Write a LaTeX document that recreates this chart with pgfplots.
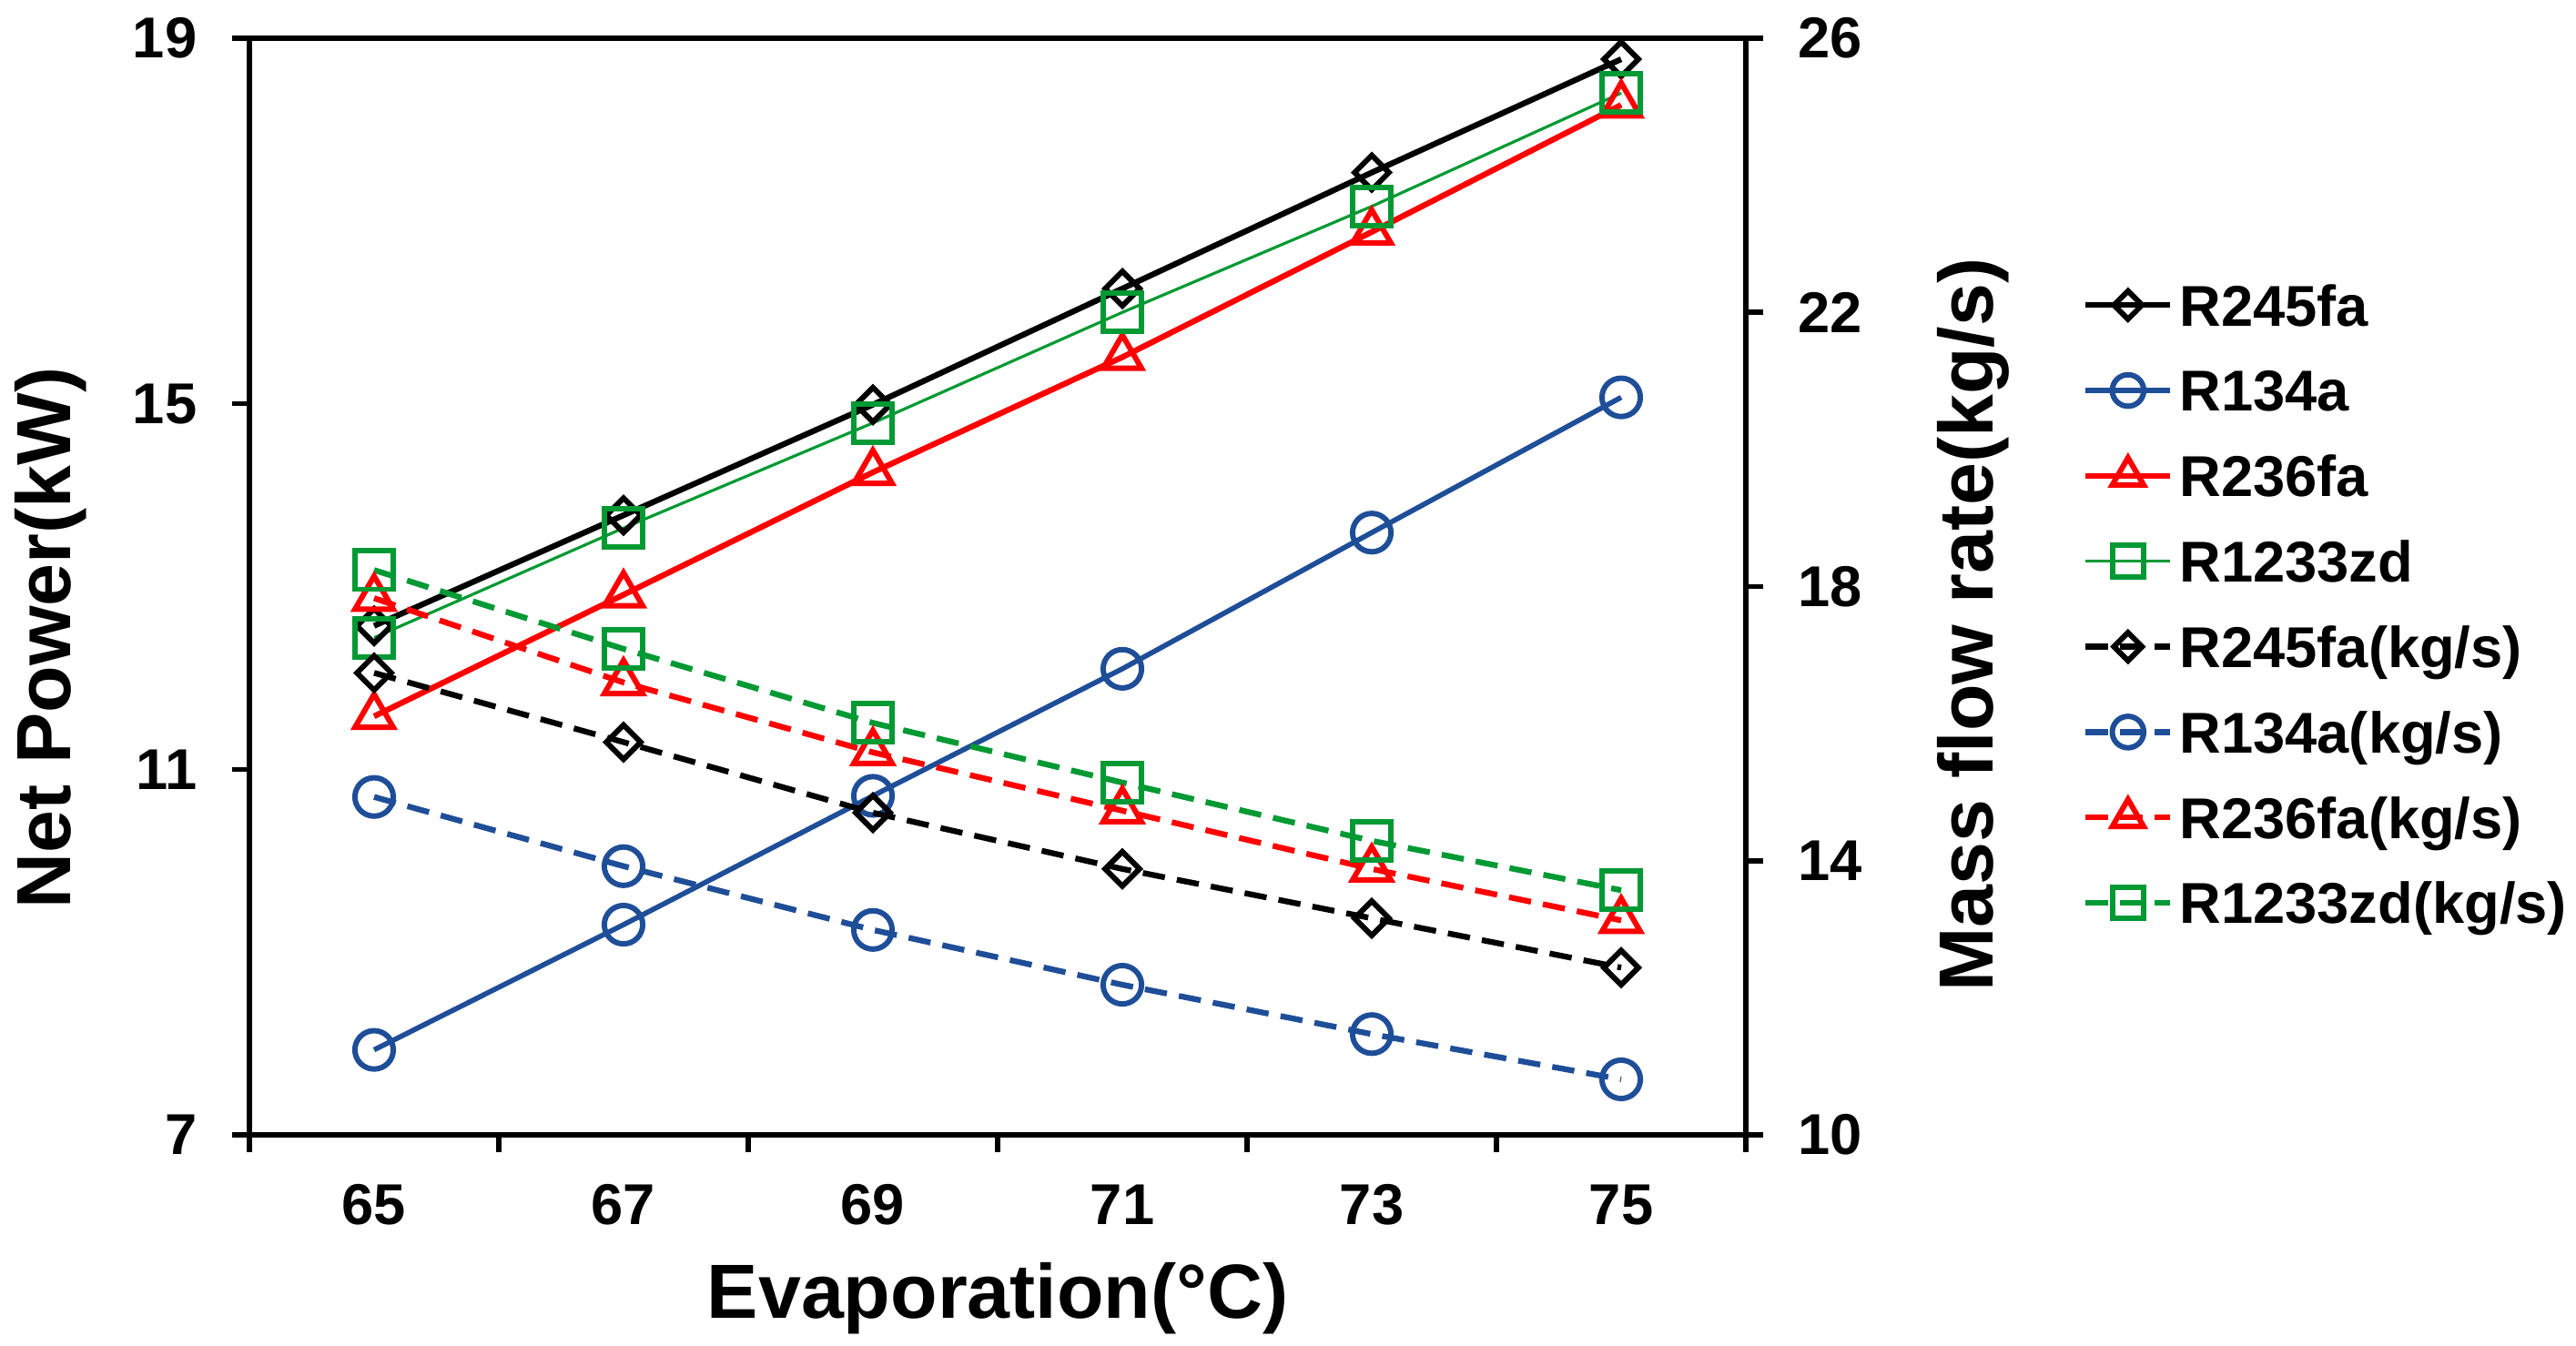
\documentclass[border=0pt]{standalone}
\usepackage{pgfplots}
\pgfplotsset{compat=1.18}
\usepackage{pgfplotstable}
\usepackage{fontspec}
\setmainfont{Liberation Sans}
\definecolor{cblue}{RGB}{31,78,152}
\definecolor{cgreen}{RGB}{0,153,51}
\definecolor{cred}{RGB}{255,0,0}

\pgfplotstableread{
x  p245  p134  p236  p1233  m245  m134  m236  m1233
65 12.57 7.93  11.58 12.44  16.74 14.93 17.83 18.24
67 13.78 9.30  12.91 13.64  15.73 13.92 16.60 17.09
69 14.99 10.71 14.25 14.79  14.70 12.99 15.58 16.01
71 16.26 12.10 15.51 16.00  13.88 12.19 14.73 15.14
73 17.53 13.59 16.88 17.16  13.16 11.47 13.88 14.29
75 18.77 15.07 18.27 18.40  12.44 10.81 13.13 13.57
}\data

\pgfplotsset{
  common/.style={
    scale only axis, width=164.4mm, height=120.5mm,
    xmin=64, xmax=76,
    axis line style={line width=1.8pt, line cap=rect},
    major tick length=0pt, minor tick length=1.9mm,
    tick align=outside,
    every tick/.style={black, line width=1.6pt},
    tick label style={font=\fontsize{18}{20}\selectfont\bfseries, inner sep=0pt},
    /pgf/number format/assume math mode=true,
    label style={font=\fontsize{24}{28}\selectfont\bfseries, inner sep=0pt},
  },
  mdia/.style={mark=square, mark size=3.8pt, mark options={solid, rotate=45, line width=1.7pt}},
  mcir/.style={mark=o, mark size=6pt, mark options={solid, line width=1.7pt}},
  mtri/.style={mark=triangle, mark size=6.9pt, mark options={solid, line width=1.7pt}},
  msq/.style={mark=square, mark size=6pt, mark options={solid, line width=1.7pt}},
  dsh/.style={dash pattern=on 7pt off 3.8pt, line width=1.8pt},
}

\begin{document}
\begin{tikzpicture}
\useasboundingbox (-27.4mm,-23.2mm) rectangle (255.6mm,124.7mm);
\begin{axis}[common,
  xtick pos=bottom, ytick pos=left,
  xtick={65,67,...,75}, minor xtick={64,66,...,76},
  ymin=7, ymax=19, ytick={7,11,15,19}, minor ytick={7,11,15,19},
  xticklabel style={anchor=north, yshift=-15.4pt},
  yticklabel style={anchor=east, xshift=-16.2pt},
  xlabel={Evaporation(\textdegree C)},
  ylabel={Net Power(kW)},
  xlabel style={at={(axis description cs:0.5,-0.116)}, anchor=north},
  ylabel style={at={(axis description cs:-0.1326,0.453)}, anchor=center},
]
\addplot[black, line width=1.8pt, mdia] table[x=x,y=p245]{\data};
\addplot[cblue, line width=1.6pt, mcir] table[x=x,y=p134]{\data};
\addplot[cred, line width=1.8pt, mtri] table[x=x,y=p236]{\data};
\addplot[cgreen, line width=0.9pt, msq] table[x=x,y=p1233]{\data};
\end{axis}
\begin{axis}[common,
  axis x line=none, axis y line*=right,
  ymin=10, ymax=26, ytick={10,14,...,26}, minor ytick={10,14,...,26},
  yticklabel style={anchor=west, xshift=16.2pt},
  ylabel={Mass flow rate(kg/s)},
  ylabel style={at={(axis description cs:1.152,0.465)}, anchor=center, rotate=0},
  legend cell align=left,
  legend style={at={(1.2251,0.780)}, anchor=north west, draw=none, fill=none,
    inner sep=0pt, outer sep=0pt, row sep=10.7pt, column sep=2pt,
    font=\fontsize{18}{20}\selectfont\bfseries,
    nodes={inner sep=0pt, text height=13pt, text depth=0pt, minimum height=16pt}},
  legend image code/.code={\draw[mark repeat=2,mark phase=2] plot coordinates {(0pt,0pt) (13.25pt,0pt) (26.5pt,0pt)};},
  legend image post style={every mark/.append style={scale=0.82}},
]
\addlegendimage{black, line width=1.8pt, mdia}\addlegendentry{R245fa}
\addlegendimage{cblue, line width=1.6pt, mcir}\addlegendentry{R134a}
\addlegendimage{cred, line width=1.8pt, mtri}\addlegendentry{R236fa}
\addlegendimage{cgreen, line width=0.9pt, msq}\addlegendentry{R1233zd}
\addplot[black, dsh, mdia] table[x=x,y=m245]{\data};\addlegendentry{R245fa(kg/s)}
\addplot[cblue, dsh, mcir] table[x=x,y=m134]{\data};\addlegendentry{R134a(kg/s)}
\addplot[cred, dsh, mtri] table[x=x,y=m236]{\data};\addlegendentry{R236fa(kg/s)}
\addplot[cgreen, dsh, msq] table[x=x,y=m1233]{\data};\addlegendentry{R1233zd(kg/s)}
\end{axis}
\end{tikzpicture}
\end{document}
